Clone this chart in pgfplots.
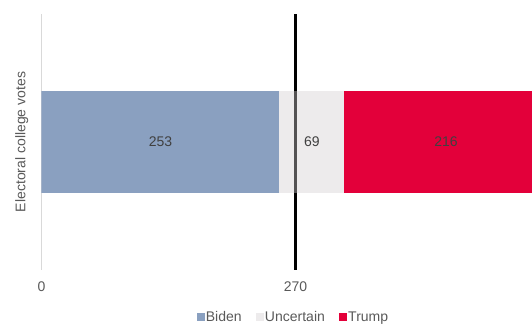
\documentclass[border=0pt]{standalone}
\usepackage{pgfplots}
\pgfplotsset{compat=1.18}
\usepackage{pgfplotstable}
\usepackage{fontspec}
\setmainfont{Liberation Sans}

\definecolor{biden}{RGB}{138,160,192}
\definecolor{uncertain}{RGB}{210,205,208}
\definecolor{trump}{RGB}{227,0,58}
\definecolor{txt}{RGB}{89,89,89}
\definecolor{valtxt}{RGB}{64,64,64}
\definecolor{axisgray}{RGB}{217,217,217}

\newcommand\fs{\fontsize{10.5}{12}\selectfont}

% electoral college votes: where each block starts and how many votes it holds
\pgfplotstableread{
name      start value
Biden     0     253
Uncertain 253   69
Trump     322   216
}\votes

\pgfplotsset{
  common/.style={
    scale only axis, width=379.6pt, height=192pt,
    xmin=0, xmax=538, ymin=-1, ymax=1,
    at={(31.1pt,40.5pt)}, anchor=south west,
    /pgf/number format/assume math mode=true,
  },
}

\begin{document}
\begin{tikzpicture}
\path[use as bounding box, clip] (0,0) rectangle (399pt,243pt);

% majority threshold, drawn beneath the bars
\begin{axis}[common, hide axis]
  \addplot[black, line width=2.3pt] coordinates {(270,-1) (270,1)};
\end{axis}

% the stacked bar
\begin{axis}[common,
  xbar stacked, bar width=77pt,
  axis lines*=left,
  x axis line style={draw=none},
  y axis line style={draw=axisgray, line width=1pt},
  xtick={0,270}, ytick=\empty, major tick length=0pt,
  tick label style={font=\fs, text=txt},
  xticklabel style={yshift=-5pt},
  ylabel={Electoral college votes},
  ylabel style={font=\fs, text=txt, at={(axis description cs:-0.039,0.5)}, anchor=center},
  legend style={font=\fs, text=txt, draw=none, fill=none, legend columns=-1,
    at={(axis description cs:0.497,-0.185)}, anchor=center,
    /tikz/every even column/.append style={column sep=9.5pt},
    nodes={inner xsep=1pt},
    inner sep=0pt},
  legend image code/.code={\fill[#1] (0pt,-3pt) rectangle (6pt,3pt);},
]
  \addplot[fill=biden, draw=none] coordinates {(253,0)};
  \addplot[fill=uncertain, fill opacity=0.4, draw=none] coordinates {(69,0)};
  \addplot[fill=trump, draw=none] coordinates {(216,0)};
  \legend{Biden, Uncertain, Trump}
\end{axis}

% vote counts in the middle of each block
\begin{axis}[common, hide axis]
  \addplot[draw=none, mark=none, nodes near coords, point meta=explicit,
    nodes near coords style={anchor=center, font=\fs, text=valtxt}]
    table[x expr=\thisrow{start}+0.5*\thisrow{value}, y expr=0, meta=value] {\votes};
\end{axis}
\end{tikzpicture}
\end{document}
